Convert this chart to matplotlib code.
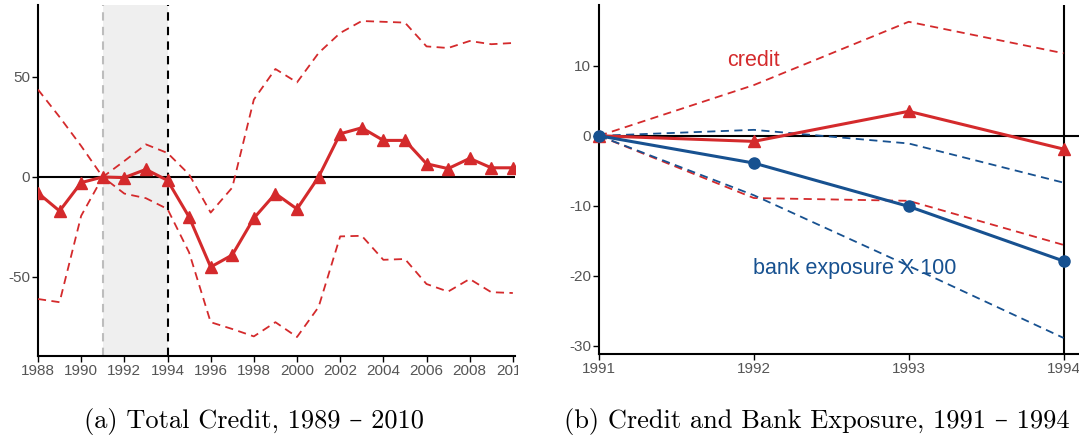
import numpy as np
import matplotlib.pyplot as plt
from matplotlib.transforms import Bbox, TransformedBbox

# panel (a): total credit
years_a = np.arange(1988, 2011)
credit_a = [-8, -17, -2.8, 0, -0.3, 3.8, -1.7, -20, -45, -39, -20.6, -8.3, -16,
            0, 21.6, 24.6, 18.3, 18.3, 6.6, 4.2, 9.3, 4.6, 4.6]
upper_a = [43.7, 30, 15.5, 0, 8, 16.3, 12, 1.3, -17.8, -5.3, 38.7, 54, 47.3,
           62, 72, 78, 77.6, 77.2, 65.3, 64.5, 68, 66.4, 67]
lower_a = [-61, -62.6, -19.4, 0, -8.3, -10.6, -16, -37.7, -72.6, -76, -79.7, -72.6, -80,
           -65, -29.7, -29.4, -41.4, -41, -53.5, -57.3, -51, -57.6, -58]

# panel (b): credit and bank exposure
years_b = [1991, 1992, 1993, 1994]
credit_b = [0, -0.8, 3.5, -1.9]
credit_b_hi = [0, 7.25, 16.3, 11.8]
credit_b_lo = [0, -8.9, -9.3, -15.6]
bank_b = [0, -3.9, -10.1, -17.9]
bank_b_hi = [0, 0.85, -1.1, -6.7]
bank_b_lo = [0, -8.5, -18.6, -28.9]

red = '#d42a2c'
blue = '#175190'
tick_col = '#555555'

fig = plt.figure(figsize=(10.79, 4.40), dpi=100)
ax1 = fig.add_axes([38/1079, 84/440, 477/1079, 351/440])
ax2 = fig.add_axes([599/1079, 86/440, 480/1079, 349/440])

dash = (0, (4.5, 3))

# --- panel a
ax1.axvspan(1991, 1994, color='#efefef', lw=0, zorder=0)
ax1.axvline(1991, color='#bdbdbd', ls=(0, (4, 3)), lw=1.5, zorder=1)
ax1.axvline(1994, color='black', ls=(0, (4, 3)), lw=1.5, zorder=1)
ax1.axhline(0, color='black', lw=1.5, zorder=2)
ax1.plot(years_a, upper_a, color=red, ls=dash, lw=1.3, zorder=3)
ax1.plot(years_a, lower_a, color=red, ls=dash, lw=1.3, zorder=3)
ax1.plot(years_a, credit_a, color=red, lw=2.2, marker='^', ms=8, zorder=4, clip_on=True)
ax1.set_xlim(1988, 2010.1)
ax1.set_ylim(-89.5, 86)
ax1.set_xticks(np.arange(1988, 2011, 2))
ax1.set_yticks([-50, 0, 50])

# --- panel b
ax2.axhline(0, color='black', lw=1.5, zorder=2)
ax2.axvline(1994, color='black', lw=1.5, zorder=2)
ax2.plot(years_b, credit_b_hi, color=red, ls=dash, lw=1.3, zorder=3)
ax2.plot(years_b, credit_b_lo, color=red, ls=dash, lw=1.3, zorder=3)
ax2.plot(years_b, bank_b_hi, color=blue, ls=dash, lw=1.3, zorder=3)
ax2.plot(years_b, bank_b_lo, color=blue, ls=dash, lw=1.3, zorder=3)
ax2.plot(years_b, credit_b, color=red, lw=2.2, marker='^', ms=8, zorder=4, clip_on=False)
ax2.plot(years_b, bank_b, color=blue, lw=2.2, marker='o', ms=8, zorder=4, clip_on=False)
ax2.text(1992.0, 10.8, 'credit', color=red, fontsize=15.5, ha='center', va='center',
         family='Liberation Sans')
ax2.text(1992.65, -19.0, 'bank exposure X 100', color=blue, fontsize=15.5, ha='center',
         va='center', family='Liberation Sans')
ax2.set_xlim(1991, 1994.1)
ax2.set_ylim(-31.2, 18.7)
ax2.set_xticks(years_b)
ax2.set_yticks([-30, -20, -10, 0, 10])

for ax in (ax1, ax2):
    for s in ('top', 'right'):
        ax.spines[s].set_visible(False)
    for s in ('left', 'bottom'):
        ax.spines[s].set_linewidth(1.5)
    ax.tick_params(length=4, width=1, colors='black', labelcolor=tick_col,
                   labelsize=11, pad=1.5)
    for lab in ax.get_xticklabels() + ax.get_yticklabels():
        lab.set_family('Liberation Sans')
    ax.set_yticklabels([str(int(v)) for v in ax.get_yticks()])

# the left panel was cropped at its right edge in the original, cutting "2010"
clip = TransformedBbox(Bbox([[0, 0], [518/1079, 1]]), fig.transFigure)
for lab in ax1.get_xticklabels():
    lab.set_clip_on(True)
    lab.set_clip_box(clip)

cap = ['cmr10', 'DejaVu Serif']
fig.text(254/1079, 1 - 421/440, '(a) Total Credit, 1989 \u2013 2010', ha='center',
         va='center', fontsize=19, family=cap)
fig.text(817/1079, 1 - 421/440, '(b) Credit and Bank Exposure, 1991 \u2013 1994',
         ha='center', va='center', fontsize=19, family=cap)

fig.savefig('out.png', dpi=100)
